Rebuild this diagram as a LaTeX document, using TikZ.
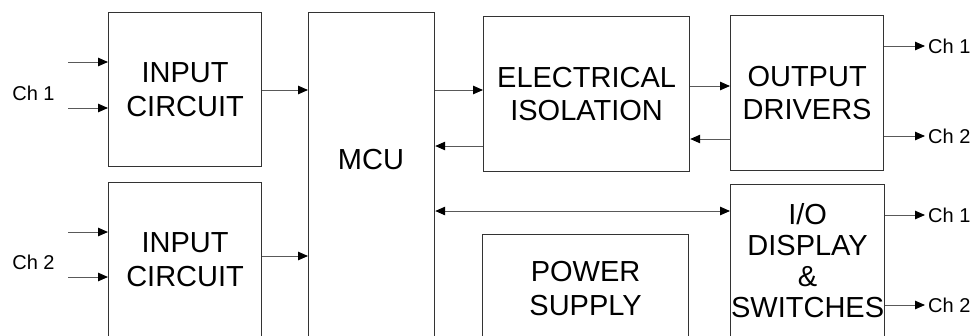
\documentclass[tikz,border=0pt]{standalone}
\usepackage{fontspec}
\setmainfont{Liberation Sans}
\usetikzlibrary{arrows.meta}
\begin{document}
\begin{tikzpicture}[x=1pt,y=-1pt,
  blk/.style={draw=black!80,line width=1.2pt,inner sep=0pt,font=\fontsize{29}{33.5}\selectfont,align=center,text=black},
  tip/.style={Triangle[length=10pt,width=8.5pt,color=black,fill=black]},
  conn/.style={draw=black!65,line width=1pt,-{Triangle[length=10pt,width=8.5pt,color=black,fill=black]}},
  biconn/.style={draw=black!65,line width=1pt,{Triangle[length=10pt,width=8.5pt,color=black,fill=black]}-{Triangle[length=10pt,width=8.5pt,color=black,fill=black]}},
  chl/.style={font=\fontsize{20}{24}\selectfont,text=black,inner sep=0pt}]
\useasboundingbox (0,0) rectangle (974,335);
\clip (0,0) rectangle (974,335);

% blocks
\node[blk, minimum width=153pt, minimum height=154pt, anchor=north west] (in1) at (108,12) {INPUT\\CIRCUIT};
\node[blk, minimum width=153pt, minimum height=154pt, anchor=north west] (in2) at (108,182) {INPUT\\CIRCUIT};
\node[blk, minimum width=126pt, minimum height=335pt, anchor=north west] (mcu) at (308,12) {};
\node[font=\fontsize{29}{33.5}\selectfont,text=black,inner sep=0pt] (mculbl) at (371,160) {MCU};
\node[blk, minimum width=206pt, minimum height=155pt, anchor=north west] (ei) at (483,16) {ELECTRICAL\\ISOLATION};
\node[blk, minimum width=153pt, minimum height=155pt, anchor=north west] (od) at (730,15) {OUTPUT\\DRIVERS};
\node[blk, font=\fontsize{29}{31}\selectfont, minimum width=154pt, minimum height=152pt, anchor=north west] (io) at (730,184) {I/O\\DISPLAY\\\&\\SWITCHES};
\node[blk, minimum width=206pt, minimum height=108pt, anchor=north west] (ps) at (482,234) {POWER\\SUPPLY};

% channel labels
\node[chl] (lch1) at (33.5,93) {Ch 1};
\node[chl] (lch2) at (33.5,262) {Ch 2};
\node[chl, anchor=west] (och1) at (928,46) {Ch 1};
\node[chl, anchor=west] (och2) at (928,136) {Ch 2};
\node[chl, anchor=west] (ioch1) at (928,215) {Ch 1};
\node[chl, anchor=west] (ioch2) at (928,305) {Ch 2};

% input arrows
\coordinate (a1) at (68,62);
\coordinate (a2) at (68,108);
\coordinate (a3) at (68,232);
\coordinate (a4) at (68,277);
\draw[conn] (a1) -- (a1 -| in1.west);
\draw[conn] (a2) -- (a2 -| in1.west);
\draw[conn] (a3) -- (a3 -| in2.west);
\draw[conn] (a4) -- (a4 -| in2.west);

% inputs to MCU
\draw[conn] (in1.east |- 0,90) -- (mcu.west |- 0,90);
\draw[conn] (in2.east |- 0,256) -- (mcu.west |- 0,256);

% MCU <-> isolation
\draw[conn] (mcu.east |- 0,90) -- (ei.west |- 0,90);
\draw[conn] (ei.west |- 0,146) -- (mcu.east |- 0,146);

% MCU <-> IO
\draw[biconn] (mcu.east |- 0,211) -- (io.west |- 0,211);

% isolation <-> output drivers
\draw[conn] (ei.east |- 0,86) -- (od.west |- 0,86);
\draw[conn] (od.west |- 0,139) -- (ei.east |- 0,139);

% outputs
\draw[conn, shorten >=3pt] (od.east |- och1.west) -- (och1.west);
\draw[conn, shorten >=3pt] (od.east |- och2.west) -- (och2.west);
\draw[conn, shorten >=3pt] (io.east |- ioch1.west) -- (ioch1.west);
\draw[conn, shorten >=3pt] (io.east |- ioch2.west) -- (ioch2.west);
\end{tikzpicture}
\end{document}
